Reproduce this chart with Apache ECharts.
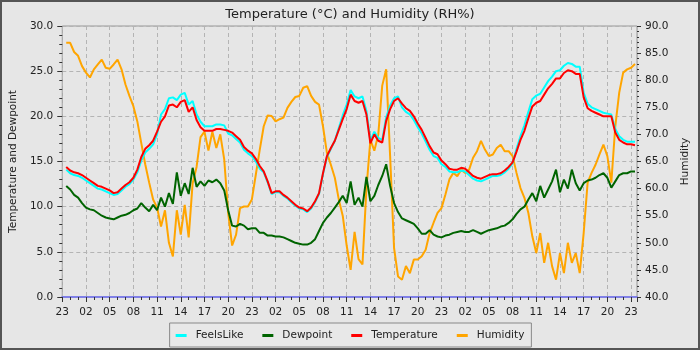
<!DOCTYPE html>
<html>
<head>
<meta charset="utf-8">
<script src="https://cdn.jsdelivr.net/npm/echarts@6/dist/echarts.min.js"></script>
<style>
  html, body { margin: 0; padding: 0; background: #e6e6e6; }
  #chart { width: 700px; height: 350px; }
</style>
</head>
<body>
<div id="chart"></div>
<script>
// hours since 23:00 on the first day, every half hour
var hours = [];
for (var i = 1; i <= 145; i++) hours.push(i / 2);

var temperature = [
  14.4, 14.0, 13.8, 13.7, 13.5, 13.2, 12.9, 12.6, 12.3, 12.2, 12.0, 11.8,
  11.5, 11.6, 12.0, 12.4, 12.7, 13.2, 14.1, 15.5, 16.4, 16.8, 17.3, 18.3,
  19.4, 20.0, 21.2, 21.3, 21.0, 21.6, 21.8, 20.5, 21.0, 19.6, 18.8, 18.4,
  18.4, 18.4, 18.6, 18.6, 18.5, 18.4, 18.2, 17.8, 17.4, 16.6, 16.2, 15.9,
  15.3, 14.5, 13.9, 12.8, 11.5, 11.7, 11.7, 11.3, 11.0, 10.6, 10.2, 9.9,
  9.8, 9.5, 9.9, 10.6, 11.5, 13.7, 15.6, 16.5, 17.3, 18.5, 19.7, 20.8,
  22.4, 21.7, 21.5, 21.7, 20.2, 17.0, 18.0, 17.3, 17.1, 19.5, 20.8, 21.7,
  22.0, 21.4, 20.9, 20.6, 20.0, 19.2, 18.5, 17.6, 16.7, 16.0, 15.8, 15.1,
  14.7, 14.2, 14.1, 14.1, 14.3, 14.2, 13.8, 13.4, 13.2, 13.1, 13.3, 13.5,
  13.6, 13.6, 13.7, 14.0, 14.4, 14.9, 16.1, 17.4, 18.4, 19.8, 21.1, 21.5,
  21.7, 22.4, 23.1, 23.6, 24.2, 24.2, 24.8, 25.1, 25.0, 24.7, 24.7, 22.1,
  20.9, 20.6, 20.4, 20.2, 20.0, 20.0, 20.0, 18.2, 17.4, 17.1, 16.9, 16.9,
  16.8
];

var feelsLike = [
  14.1, 13.7, 13.5, 13.4, 13.2, 12.9, 12.6, 12.3, 12.0, 11.9, 11.7, 11.5,
  11.3, 11.4, 11.8, 12.2, 12.5, 13.0, 13.8, 15.1, 16.0, 16.4, 16.9, 18.0,
  20.2, 20.8, 22.0, 22.1, 21.8, 22.4, 22.6, 21.3, 21.7, 20.2, 19.4, 18.9,
  18.9, 18.9, 19.1, 19.1, 19.0, 18.1, 17.9, 17.5, 17.1, 16.3, 15.9, 15.6,
  15.0, 14.2, 13.8, 12.7, 11.4, 11.6, 11.6, 11.2, 10.9, 10.5, 10.1, 9.8,
  9.7, 9.4, 9.8, 10.5, 11.4, 13.6, 15.5, 16.4, 17.3, 18.7, 20.1, 21.3,
  22.9, 22.2, 22.0, 22.2, 20.6, 17.3, 18.3, 17.6, 17.4, 19.9, 21.2, 22.0,
  22.2, 21.0, 20.5, 20.2, 19.6, 18.8, 18.1, 17.2, 16.3, 15.6, 15.4, 14.7,
  14.4, 13.9, 13.8, 13.8, 14.0, 13.9, 13.5, 13.1, 12.9, 12.8, 13.0, 13.2,
  13.4, 13.4, 13.5, 13.8, 14.2, 14.8, 16.4, 17.8, 19.0, 20.5, 21.9, 22.3,
  22.5, 23.2, 23.9, 24.4, 25.0, 25.1, 25.6, 25.9, 25.8, 25.5, 25.5, 22.6,
  21.4, 21.0, 20.8, 20.6, 20.4, 20.3, 20.2, 18.6, 17.8, 17.4, 17.2, 17.2,
  17.2
];

var dewpoint = [
  12.3, 11.9, 11.3, 11.0, 10.4, 9.9, 9.7, 9.6, 9.3, 9.0, 8.8, 8.7,
  8.6, 8.8, 9.0, 9.1, 9.3, 9.6, 9.8, 10.4, 9.9, 9.5, 10.2, 9.6,
  11.0, 10.0, 11.5, 10.3, 13.8, 11.2, 12.6, 11.4, 14.3, 12.2, 12.8, 12.3,
  12.9, 12.7, 13.0, 12.6, 11.8, 9.6, 7.9, 7.8, 8.1, 7.9, 7.5, 7.6,
  7.6, 7.1, 7.1, 6.8, 6.8, 6.7, 6.7, 6.6, 6.4, 6.2, 6.0, 5.9,
  5.8, 5.8, 6.0, 6.4, 7.3, 8.2, 8.8, 9.3, 9.9, 10.5, 11.2, 10.4,
  12.8, 10.2, 11.0, 10.0, 13.3, 10.6, 11.2, 12.4, 13.4, 14.7, 12.3, 10.4,
  9.4, 8.7, 8.5, 8.3, 8.1, 7.6, 7.0, 7.0, 7.4, 6.9, 6.7, 6.6,
  6.8, 6.9, 7.1, 7.2, 7.3, 7.2, 7.2, 7.4, 7.2, 7.0, 7.2, 7.4,
  7.5, 7.6, 7.8, 7.9, 8.2, 8.6, 9.2, 9.7, 10.0, 10.8, 11.5, 10.6,
  12.3, 11.0, 11.9, 12.8, 14.1, 11.6, 13.0, 12.0, 14.1, 12.6, 11.8, 12.6,
  12.9, 13.0, 13.2, 13.5, 13.7, 13.2, 12.1, 12.8, 13.5, 13.7, 13.7, 13.9,
  13.9
];

var humidity = [
  86.9, 86.9, 85.2, 84.5, 82.6, 81.4, 80.5, 82.0, 82.9, 83.8, 82.3, 82.1,
  82.9, 83.8, 82.0, 79.2, 77.1, 75.2, 72.4, 68.4, 64.5, 61.1, 58.0, 56.5,
  53.0, 56.0, 50.0, 47.5, 56.0, 51.5, 57.0, 51.0, 61.0, 64.0, 69.5, 70.5,
  67.0, 70.5, 67.5, 70.0, 65.4, 55.5, 49.5, 51.5, 56.4, 56.7, 56.7, 58.0,
  62.6, 67.2, 71.5, 73.5, 73.4, 72.4, 72.8, 73.1, 74.9, 76.0, 76.9, 77.1,
  78.6, 78.9, 77.1, 76.0, 75.5, 71.5, 66.6, 64.4, 62.0, 58.0, 55.0, 49.5,
  45.0, 52.0, 47.0, 46.0, 60.0, 69.0, 67.0, 70.0, 79.0, 82.0, 66.0, 49.0,
  43.8, 43.2, 45.7, 44.4, 46.9, 46.9, 47.5, 48.7, 51.8, 53.7, 55.5, 56.4,
  58.9, 61.7, 62.9, 62.3, 63.5, 62.9, 63.5, 65.7, 66.9, 68.8, 67.2, 66.0,
  66.3, 67.5, 68.1, 66.9, 66.9, 66.0, 62.9, 60.1, 58.3, 55.5, 51.2, 48.1,
  51.8, 46.3, 50.0, 45.7, 43.2, 48.1, 44.4, 50.0, 46.3, 48.1, 44.4, 51.8,
  61.1, 62.9, 64.4, 66.3, 68.1, 66.0, 61.1, 71.5, 77.7, 81.4, 82.0, 82.3,
  83.0
];

function pairs(values) {
  return values.map(function (v, i) { return [hours[i], v]; });
}

var font = 'DejaVu Sans';
var myChart = echarts.init(document.getElementById('chart'));
var option = {
  animation: false,
  backgroundColor: '#e6e6e6',
  textStyle: { fontFamily: font },
  title: {
    text: 'Temperature (°C) and Humidity (RH%)',
    left: 'center',
    top: 3,
    textStyle: { fontFamily: font, fontSize: 13, fontWeight: 'normal', color: '#222' }
  },
  // outer frame
  graphic: [{
    type: 'rect',
    shape: { x: 1, y: 1, width: 698, height: 348 },
    style: { fill: null, stroke: '#555', lineWidth: 2 },
    z: 100
  }],
  legend: {
    data: ['FeelsLike', 'Dewpoint', 'Temperature', 'Humidity'],
    left: 'center',
    top: 323,
    padding: [7, 7, 6, 6],
    itemGap: 19,
    itemWidth: 11,
    itemHeight: 3,
    icon: 'rect',
    borderColor: '#888',
    borderWidth: 1,
    backgroundColor: '#e8e8e8',
    textStyle: { fontFamily: font, fontSize: 10.5, color: '#222', padding: [0, 0, 0, 4] }
  },
  grid: {
    left: 55,
    right: 63,
    top: 26,
    bottom: 53,
    show: true,
    borderColor: '#999',
    borderWidth: 1,
    backgroundColor: 'transparent'
  },
  xAxis: {
    type: 'value',
    min: 0,
    max: 72.75,
    interval: 3,
    axisLine: { show: true, onZero: false, lineStyle: { color: '#8080e6', width: 2 } },
    axisTick: { length: 5, lineStyle: { color: '#333' } },
    minorTick: { show: true, splitNumber: 3, length: 3, lineStyle: { color: '#333' } },
    axisLabel: {
      showMaxLabel: false,
      margin: 10,
      fontFamily: font,
      fontSize: 10.5,
      color: '#222',
      formatter: function (v) {
        if (v % 3 !== 0) return '';
        var h = (23 + v) % 24;
        return (h < 10 ? '0' : '') + h;
      }
    },
    splitLine: { show: true, lineStyle: { color: '#b4b4b4', type: [4, 3] } }
  },
  yAxis: [
    {
      type: 'value',
      min: 0,
      max: 30,
      interval: 5,
      name: 'Temperature and Dewpoint',
      nameLocation: 'middle',
      nameGap: 36,
      nameTextStyle: { fontFamily: font, fontSize: 10.5, color: '#222' },
      axisLine: { show: false },
      axisTick: { show: true, length: 5, lineStyle: { color: '#333' } },
      minorTick: { show: true, splitNumber: 5, length: 3, lineStyle: { color: '#333' } },
      axisLabel: {
        fontFamily: font, fontSize: 10.5, color: '#222', margin: 9,
        formatter: function (v) { return v.toFixed(1); }
      },
      splitLine: { show: true, lineStyle: { color: '#b4b4b4', type: [4, 3] } }
    },
    {
      type: 'value',
      min: 40,
      max: 90,
      interval: 5,
      name: 'Humidity',
      nameLocation: 'middle',
      nameGap: 40,
      nameTextStyle: { fontFamily: font, fontSize: 10.5, color: '#222' },
      axisLine: { show: false },
      axisTick: { show: true, length: 4, lineStyle: { color: '#333' } },
      minorTick: { show: true, splitNumber: 5, length: 2, lineStyle: { color: '#333' } },
      axisLabel: {
        fontFamily: font, fontSize: 10.5, color: '#222', margin: 8,
        formatter: function (v) { return v.toFixed(1); }
      },
      splitLine: { show: false }
    }
  ],
  series: [
    {
      name: 'Humidity', type: 'line', yAxisIndex: 1, data: pairs(humidity),
      showSymbol: false, color: '#ffa500', lineStyle: { width: 2 }, z: 1
    },
    {
      name: 'FeelsLike', type: 'line', data: pairs(feelsLike),
      showSymbol: false, color: '#00ffff', lineStyle: { width: 2 }, z: 2
    },
    {
      name: 'Dewpoint', type: 'line', data: pairs(dewpoint),
      showSymbol: false, color: '#006400', lineStyle: { width: 2 }, z: 3
    },
    {
      name: 'Temperature', type: 'line', data: pairs(temperature),
      showSymbol: false, color: '#ff0000', lineStyle: { width: 2 }, z: 4
    }
  ]
};
myChart.setOption(option);
</script>
</body>
</html>
